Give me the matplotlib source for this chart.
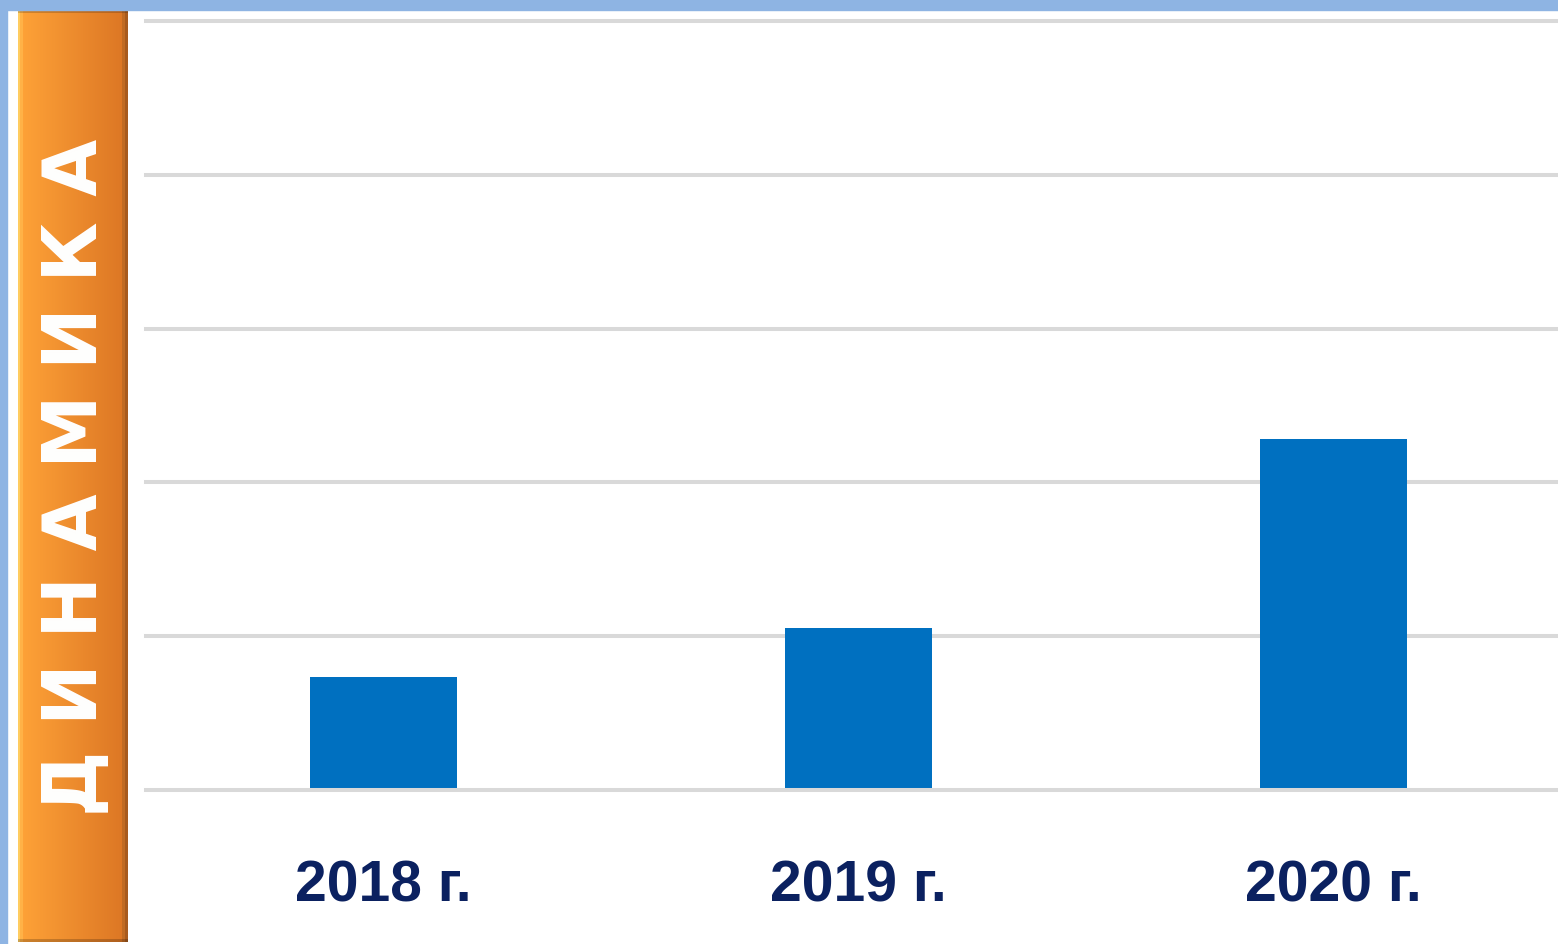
import numpy as np
import matplotlib
matplotlib.use("Agg")
import matplotlib.pyplot as plt
from matplotlib.patches import Rectangle

categories = ["2018 г.", "2019 г.", "2020 г."]
values = [0.735, 1.053, 2.28]
banner_text = "ДИНАМИКА"

W, H = 1558, 944
fig = plt.figure(figsize=(W / 100, H / 100), dpi=100)
fig.patch.set_facecolor("white")

# Light blue frame (top and left)
fig.patches.append(Rectangle((0, 1 - 10 / H), 1, 10 / H, transform=fig.transFigure,
                             color="#8EB4E3", zorder=0))
fig.patches.append(Rectangle((0, 0), 7 / W, 1, transform=fig.transFigure,
                             color="#8EB4E3", zorder=0))

# Orange banner with horizontal gradient
bx0, bx1, by0, by1 = 18, 128, 2, 934  # pixel coords (y from bottom)
bh = by1 - by0
bax = fig.add_axes([bx0 / W, by0 / H, (bx1 - bx0) / W, bh / H])
bax.set_axis_off()
n = 110
t = np.linspace(0, 1, n)
c_left = np.array([1.0, 0.64, 0.22])
c_right = np.array([0.86, 0.46, 0.14])
grad = c_left[None, :] * (1 - t[:, None]) + c_right[None, :] * t[:, None]
grad[0:2] = [1.0, 0.80, 0.38]
grad[2:5] = [1.0, 0.70, 0.28]
grad[-3:] = [0.66, 0.36, 0.12]
grad[-6:-3] = [0.76, 0.42, 0.14]
img = np.tile(grad[None, :, :], (bh, 1, 1))
img[:3, :, :] *= 0.82
img[-3:, :, :] *= 0.8
bax.imshow(img, aspect="auto", extent=[0, 1, 0, 1], interpolation="nearest")
bax.set_xlim(0, 1)
bax.set_ylim(0, 1)
spaced = " ".join(banner_text)
bax.text(0.53, (944 - 477 - by0) / bh, spaced, rotation=90, ha="center", va="center",
         color="white", fontsize=53, fontweight="bold", family=["DejaVu Sans"],
         transform=bax.transAxes)

# Main chart axes
left = 146 / W
right = 1571 / W
bottom = (H - 790) / H
top = (H - 21) / H
ax = fig.add_axes([left, bottom, right - left, top - bottom])
ax.set_facecolor("none")
x = np.arange(len(categories))
ax.set_xlim(-0.5, len(categories) - 0.5)
ax.set_ylim(0, 5)
for gy in range(0, 6):
    ax.axhline(gy, color="#D9D9D9", lw=2.9, zorder=1 if gy else 3, clip_on=False)
ax.bar(x, values, width=0.31, color="#0070C0", zorder=2)
for s in ax.spines.values():
    s.set_visible(False)
ax.set_yticks([])
ax.set_xticks(x)
ax.set_xticklabels(categories, fontsize=41, fontweight="bold", color="#0B2160",
                   family=["Liberation Sans Narrow", "Liberation Sans", "DejaVu Sans"])
ax.tick_params(axis="x", length=0, pad=50)

fig.savefig("out.png", dpi=100, facecolor="white")
